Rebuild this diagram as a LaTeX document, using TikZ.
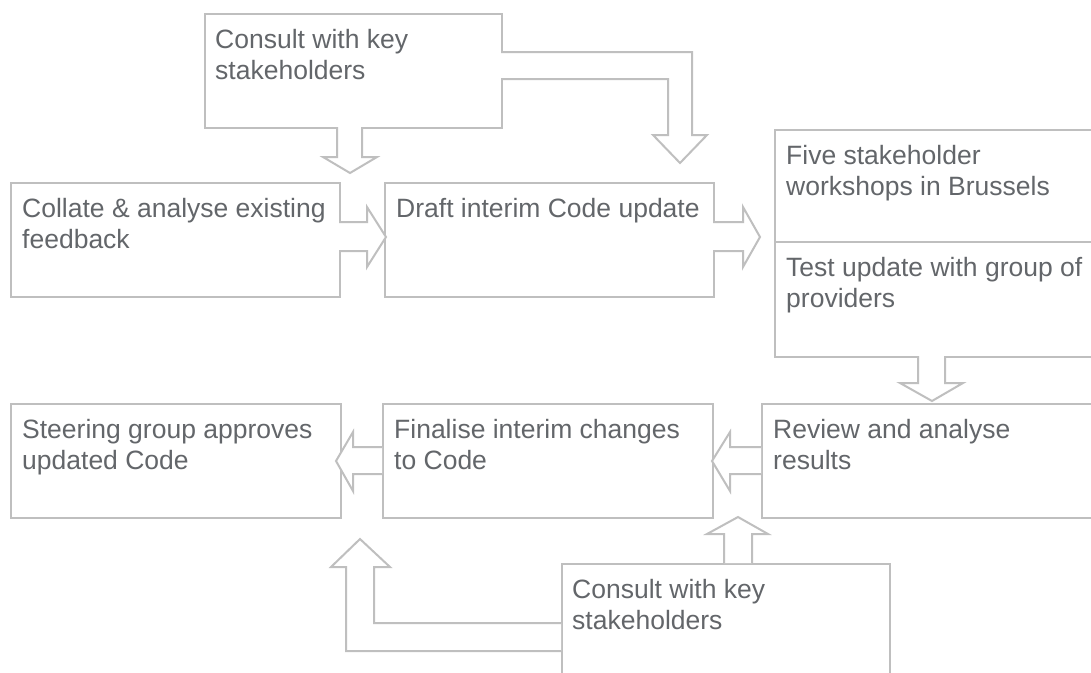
\documentclass[tikz,border=0pt]{standalone}
\usepackage{fontspec}
\setmainfont{Liberation Sans}
\begin{document}
\begin{tikzpicture}[x=1pt,y=-1pt,
  line join=miter,
  stepbox/.style={draw=boxgray, line width=2pt, fill=white, inner sep=0pt, anchor=north west},
  steptext/.style={anchor=north west, inner sep=0pt, align=left,
    text=textgray, font=\fontsize{26.5}{31}\selectfont},
  blockarrow/.style={draw=boxgray, line width=2pt, fill=white}]
\definecolor{boxgray}{RGB}{191,191,191}
\definecolor{textgray}{RGB}{99,102,106}

\useasboundingbox (0,0) rectangle (1091,672);
\clip (0,0) rectangle (1091,672);

% step boxes, placed by their top-left corners
\node[stepbox, minimum width=297pt, minimum height=114pt] (consultA) at (204,13) {};
\node[stepbox, minimum width=329pt, minimum height=114pt] (collate) at (10,182) {};
\node[stepbox, minimum width=329pt, minimum height=114pt] (draft) at (384,182) {};
\node[stepbox, minimum width=330pt, minimum height=112pt] (workshops) at (774,129) {};
\node[stepbox, minimum width=330pt, minimum height=115pt] (testupd) at (774,241) {};
\node[stepbox, minimum width=330pt, minimum height=114pt] (steering) at (10,403) {};
\node[stepbox, minimum width=330pt, minimum height=114pt] (finalise) at (382,403) {};
\node[stepbox, minimum width=340pt, minimum height=114pt] (review) at (761,403) {};
\node[stepbox, minimum width=328pt, minimum height=120pt] (consultB) at (561,563) {};

% labels
\node[steptext] (consultAt) at ([xshift=11pt,yshift=-16pt]consultA.north west) {Consult with key\\stakeholders};
\node[steptext] (collatet) at ([xshift=12pt,yshift=-16pt]collate.north west) {Collate \& analyse existing\\feedback};
\node[steptext] (draftt) at ([xshift=12pt,yshift=-16pt]draft.north west) {Draft interim Code update};
\node[steptext] (workshopst) at ([xshift=12pt,yshift=-16pt]workshops.north west) {Five stakeholder\\workshops in Brussels};
\node[steptext] (testupdt) at ([xshift=12pt,yshift=-16pt]testupd.north west) {Test update with group of\\providers};
\node[steptext] (steeringt) at ([xshift=12pt,yshift=-16pt]steering.north west) {Steering group approves\\updated Code};
\node[steptext] (finaliset) at ([xshift=12pt,yshift=-16pt]finalise.north west) {Finalise interim changes\\to Code};
\node[steptext] (reviewt) at ([xshift=12pt,yshift=-16pt]review.north west) {Review and analyse\\results};
\node[steptext] (consultBt) at ([xshift=11pt,yshift=-16pt]consultB.north west) {Consult with key\\stakeholders};

% block arrows
% consult -> down
\draw[blockarrow] (337,127) -- (337,157) -- (323,157) -- (350,173) -- (377,157) -- (362,157) -- (362,127);
% consult -> workshops (elbow)
\draw[blockarrow] (501,52) -- (692,52) -- (692,135) -- (707,135) -- (680,163) -- (653,135) -- (668,135) -- (668,79) -- (501,79);
% collate -> draft
\draw[blockarrow] (339,222) -- (367,222) -- (367,207) -- (386,237) -- (367,267) -- (367,251) -- (339,251);
% draft -> workshops
\draw[blockarrow] (713,222) -- (743,222) -- (743,207) -- (760,237) -- (743,267) -- (743,251) -- (713,251);
% test update -> review
\draw[blockarrow] (918,356) -- (918,383) -- (900,383) -- (932,401) -- (963,383) -- (945,383) -- (945,356);
% review -> finalise
\draw[blockarrow] (761,447) -- (730,447) -- (730,432) -- (712,461) -- (730,491) -- (730,474) -- (761,474);
% finalise -> steering
\draw[blockarrow] (382,447) -- (353,447) -- (353,432) -- (336,461) -- (353,491) -- (353,474) -- (382,474);
% consult -> review (up)
\draw[blockarrow] (724,563) -- (724,534) -- (707,534) -- (738,517) -- (768,534) -- (752,534) -- (752,563);
% consult -> between steering and finalise (elbow, up)
\draw[blockarrow] (561,623) -- (374,623) -- (374,567) -- (390,567) -- (360,539) -- (331,567) -- (346,567) -- (346,651) -- (561,651);
\end{tikzpicture}
\end{document}
